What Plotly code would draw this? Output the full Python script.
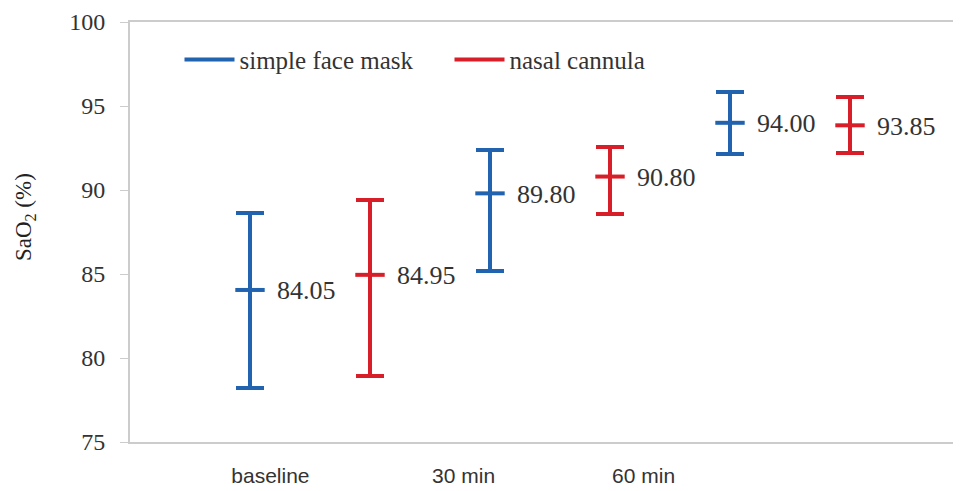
import plotly.graph_objects as go

categories = ["baseline", "30 min", "60 min"]
series_names = ["simple face mask", "nasal cannula"]
mask_mean = [84.05, 89.80, 94.00]
mask_high = [88.63, 92.38, 95.83]
mask_low = [78.21, 85.18, 92.14]
cannula_mean = [84.95, 90.80, 93.85]
cannula_high = [89.40, 92.56, 95.54]
cannula_low = [78.93, 88.57, 92.20]
y_ticks = [75, 80, 85, 90, 95, 100]
# x-label positions as drawn in the source (offset from group centres)
label_pos = [-0.165, 0.64, 1.39]

BLUE = "#2163AE"
RED = "#D81E28"
SERIF = "Liberation Serif, Times New Roman, Times, serif"
SANS = "Liberation Sans, Arial, sans-serif"
TXT = "#333333"

fig = go.Figure()

def add_series(mean, high, low, offset, color, name):
    xs = [i + offset for i in range(len(mean))]
    fig.add_trace(go.Scatter(
        x=xs, y=mean, mode="markers",
        marker=dict(symbol="line-ew", size=21, line=dict(color=color, width=4)),
        error_y=dict(type="data", symmetric=False,
                     array=[h - m for h, m in zip(high, mean)],
                     arrayminus=[m - l for m, l in zip(mean, low)],
                     color=color, thickness=4, width=14),
        showlegend=False, cliponaxis=False,
    ))
    for x, v in zip(xs, mean):
        fig.add_annotation(x=x, y=v, text=f"{v:.2f}", showarrow=False,
                           xanchor="left", yanchor="middle", xshift=25, yshift=-1,
                           font=dict(family=SERIF, size=26, color=TXT))
    fig.add_trace(go.Scatter(x=[None], y=[None], mode="lines", name=name,
                             line=dict(color=color, width=4)))

add_series(mask_mean, mask_high, mask_low, -0.25, BLUE, series_names[0])
add_series(cannula_mean, cannula_high, cannula_low, 0.25, RED, series_names[1])

# y-axis title
fig.add_annotation(xref="paper", yref="paper", x=-0.127, y=0.536, text="SaO<sub>2</sub> (%)",
                   textangle=-90, showarrow=False, xanchor="center", yanchor="middle",
                   font=dict(family=SERIF, size=23, color="#222222"))

# page body has an 8px margin, so the figure is shrunk by that amount
fig.update_layout(
    width=953, height=483,
    margin=dict(l=122, r=6, t=14, b=49, autoexpand=False),
    plot_bgcolor="white", paper_bgcolor="white",
    showlegend=True,
    legend=dict(orientation="h", x=0.06, y=0.91, xanchor="left", yanchor="middle",
                font=dict(family=SERIF, size=25, color=TXT),
                bgcolor="rgba(0,0,0,0)", itemwidth=50,
                entrywidth=205, entrywidthmode="pixels"),
    font=dict(family=SERIF, color=TXT),
)
fig.update_xaxes(
    range=[-0.75, 2.6875], tickmode="array", tickvals=label_pos, ticktext=categories,
    showline=True, linecolor="#cccccc", linewidth=2, mirror=True,
    ticks="", showgrid=False, zeroline=False, automargin=False,
    ticklabelstandoff=14,
    tickfont=dict(family=SANS, size=21, color=TXT),
)
fig.update_yaxes(
    range=[75, 100], tickmode="array", tickvals=y_ticks,
    showline=True, linecolor="#cccccc", linewidth=2,
    ticks="outside", ticklen=8, tickcolor="#cccccc", tickwidth=1,
    showgrid=False, zeroline=False, automargin=False,
    ticklabelstandoff=10,
    tickfont=dict(family=SERIF, size=24, color=TXT),
)
fig.write_html("out.html")
